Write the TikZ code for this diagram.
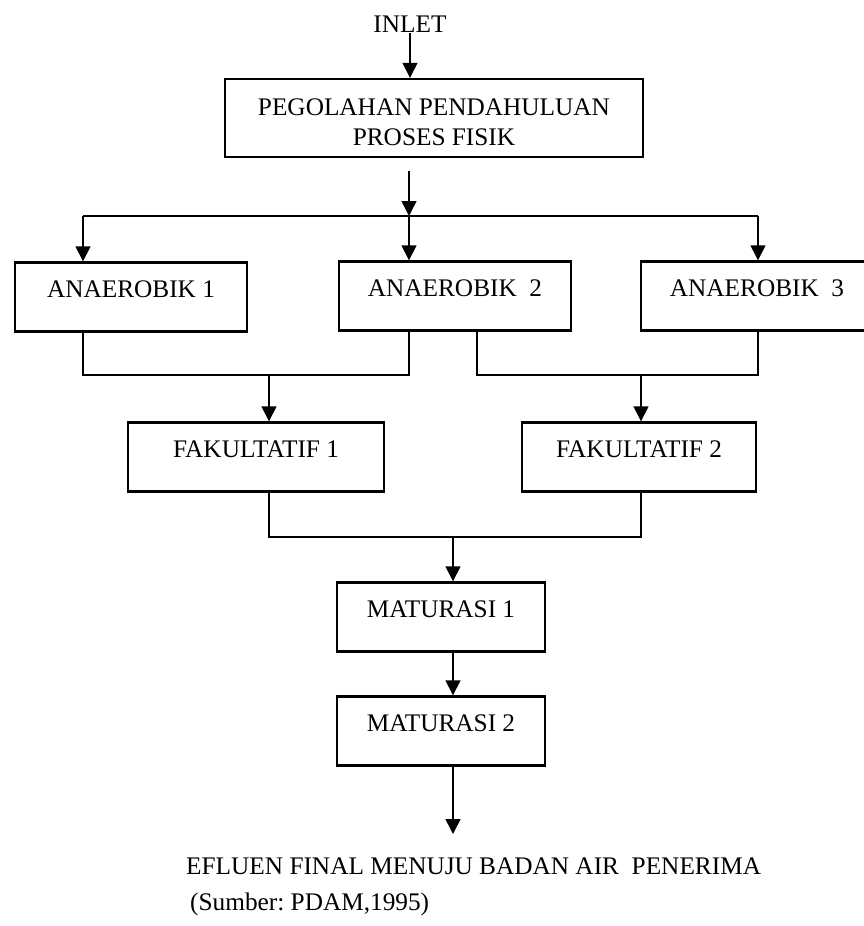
\documentclass[tikz,border=0pt]{standalone}
\usepackage{fontspec}
\setmainfont{Liberation Serif}
\usetikzlibrary{arrows.meta}
\frenchspacing
\tikzset{
	kotak/.style={draw, line width=2.4pt, minimum height=69pt, text height=10pt, text depth=10pt, inner sep=0pt, font=\fontsize{25.3}{30}\selectfont},
	teks/.style={inner sep=0pt, font=\fontsize{25.3}{30}\selectfont},
	garis/.style={line width=1.5pt},
	panah/.style={garis, -{Triangle[length=15pt,width=15pt]}}
}

\begin{document}
\begin{tikzpicture}[x=1pt,y=-1pt]
		\useasboundingbox (0,0) rectangle (864,926);
		\clip (0,0) rectangle (864,926);
		\begin{scope}
			\node[teks, anchor=base] (inlet) at (410,32) {INLET};
			\node[kotak, minimum width=418pt, align=center, text height=66pt, text depth=12pt] (pra) at (434,118) {PEGOLAHAN PENDAHULUAN\\PROSES FISIK};
			\node[kotak, minimum width=232pt] (ana1) at (131,297) {ANAEROBIK 1};
			\node[kotak, minimum width=232pt] (ana2) at (455,296) {ANAEROBIK\ \ 2};
			\node[kotak, minimum width=232pt] (ana3) at (757,296) {ANAEROBIK\ \ 3};
			\node[kotak, minimum width=256pt] (fak1) at (256,457) {FAKULTATIF 1};
			\node[kotak, minimum width=234pt] (fak2) at (639,457) {FAKULTATIF 2};
			\node[kotak, minimum width=208pt] (mat1) at (441,617) {MATURASI 1};
			\node[kotak, minimum width=208pt] (mat2) at (441,731) {MATURASI 2};
			\node[teks, anchor=base west] (efluen) at (186,874) {EFLUEN FINAL MENUJU BADAN AIR\ \ PENERIMA};
			\node[teks, anchor=base west] (sumber) at (190,910) {(Sumber: PDAM,1995)};
			\coordinate (bagi) at (409,216);
			\coordinate (kiri) at (83,216);
			\coordinate (kanan) at (758,216);
			\coordinate (gabung1) at (269,375);
			\coordinate (gabung2) at (641,375);
			\coordinate (gabung3) at (453,537);
			\coordinate (keluar) at (453,834);
			\draw[panah, shorten <=1pt] (inlet.south) -- (inlet.south |- pra.north);
			\draw[panah, shorten <=13pt] (pra.south -| bagi) -- (bagi);
			\draw[garis] (kiri) -- (kanan);
			\draw[panah] (kiri) -- (kiri |- ana1.north);
			\draw[panah] (bagi) -- (bagi |- ana2.north);
			\draw[panah] (kanan) -- (kanan |- ana3.north);
			\draw[garis] (ana1.south -| kiri) |- (gabung1) -| (ana2.south -| bagi);
			\draw[garis] ([xshift=22pt]ana2.south) |- (gabung2) -| (ana3.south -| kanan);
			\draw[panah] (gabung1) -- (gabung1 |- fak1.north);
			\draw[panah] (gabung2) -- (gabung2 |- fak2.north);
			\draw[garis] (fak1.south -| gabung1) |- (gabung3) -| (fak2.south -| gabung2);
			\draw[panah] (gabung3) -- (gabung3 |- mat1.north);
			\draw[panah] (mat1.south -| gabung3) -- (gabung3 |- mat2.north);
			\draw[panah] (mat2.south -| gabung3) -- (keluar);
		\end{scope}
	\end{tikzpicture}
\end{document}
